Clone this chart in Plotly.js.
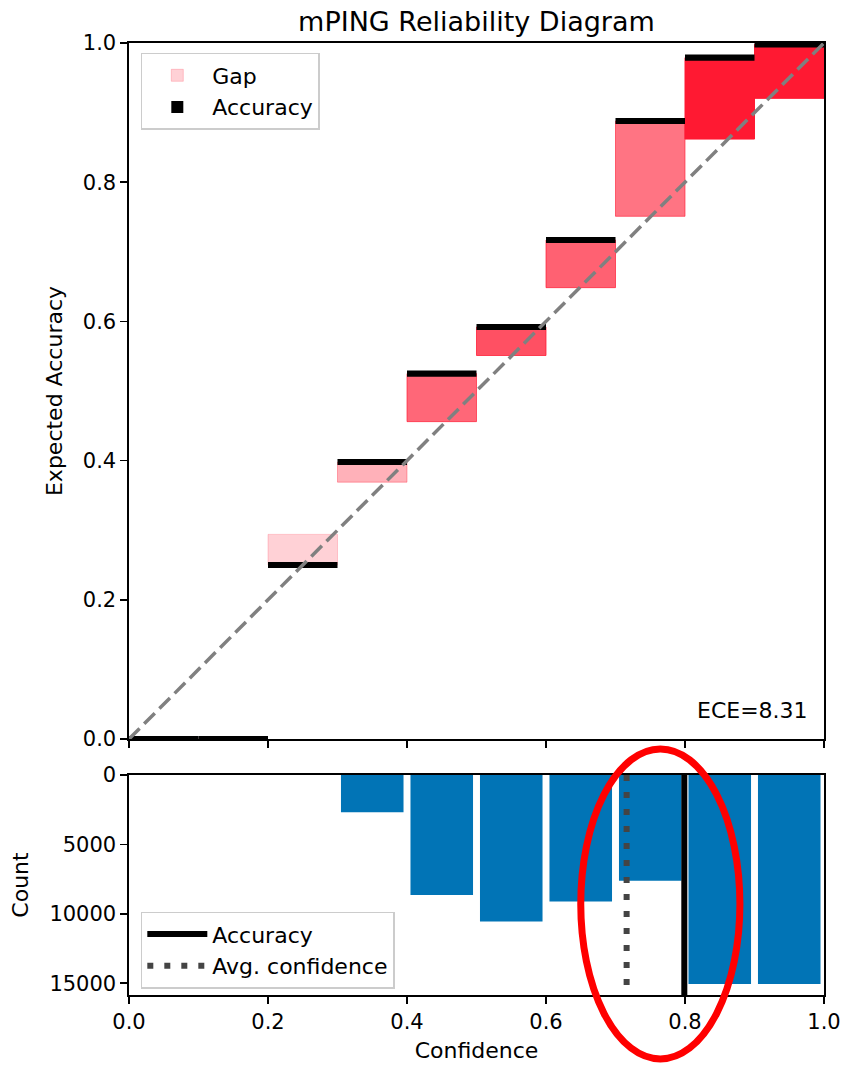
<!DOCTYPE html>
<html>
<head>
<meta charset="utf-8">
<script src="https://cdn.plot.ly/plotly-3.0.1.min.js"></script>
<style>html,body{margin:0;padding:0;background:#fff;}#chart{width:844px;height:1065px;}</style>
</head>
<body>
<div id="chart"></div>
<script>
// ---- data ----
const binLower    = [0.0, 0.1, 0.2, 0.3, 0.4, 0.5, 0.6, 0.7, 0.8, 0.9];
const binUpper    = [0.1, 0.2, 0.3, 0.4, 0.5, 0.6, 0.7, 0.8, 0.9, 1.0];
const accuracies  = [0.0, 0.0, 0.250, 0.398, 0.525, 0.592, 0.717, 0.888, 0.979, 0.998];
const confidences = [0.0, 0.0, 0.294, 0.369, 0.456, 0.551, 0.6485, 0.751, 0.862, 0.9205];
const counts      = [0, 0, 6, 2680, 8640, 10560, 9120, 7610, 15050, 15050];
const avgAccuracy = 0.799;
const avgConfidence = 0.716;
const eceValue = 8.31;
const countTicks = [0, 5000, 10000, 15000];
const probTicks = [0, 0.2, 0.4, 0.6, 0.8, 1.0];

// ---- derived ----
const centers = binLower.map((lo, i) => (lo + binUpper[i]) / 2);
const widths = binLower.map((lo, i) => binUpper[i] - lo);
const maxCount = Math.max(...counts);
const alphas = counts.map(c => 0.2 + 0.8 * c / maxCount);
const gapColors = alphas.map(a => `rgba(255,25,50,${a.toFixed(3)})`);
const gapHeights = accuracies.map((a, i) => Math.abs(a - confidences[i]));
const gapBases = accuracies.map((a, i) => Math.min(a, confidences[i]));
const accThick = 0.0088; // visual thickness of accuracy marker (style)
const countMax = maxCount * 1.053;

const FONT = 'DejaVu Sans, sans-serif';
const TXT = 22;

const traces = [
  {
    type: 'bar', name: 'Gap', x: centers, y: gapHeights, base: gapBases, width: widths,
    marker: {color: gapColors, line: {color: gapColors, width: 1}},
    xaxis: 'x', yaxis: 'y', legend: 'legend', hoverinfo: 'skip'
  },
  {
    type: 'bar', name: 'Accuracy', x: centers,
    y: accuracies.map(() => accThick), base: accuracies.map(a => a - accThick / 2), width: widths,
    marker: {color: '#000000', line: {width: 0}},
    xaxis: 'x', yaxis: 'y', legend: 'legend', hoverinfo: 'skip'
  },
  {
    type: 'scatter', mode: 'lines', x: [0, 1], y: [0, 1], showlegend: false,
    line: {color: 'gray', width: 3.5, dash: '15px,6.5px'},
    xaxis: 'x', yaxis: 'y', hoverinfo: 'skip'
  },
  {
    type: 'bar', x: centers, y: counts, width: widths.map(w => w * 0.9),
    marker: {color: '#0174b6', line: {width: 0}}, showlegend: false,
    xaxis: 'x2', yaxis: 'y2', hoverinfo: 'skip'
  },
  {
    type: 'scatter', mode: 'lines', name: 'Accuracy',
    x: [avgAccuracy, avgAccuracy], y: [0, countMax],
    line: {color: '#000000', width: 6},
    xaxis: 'x2', yaxis: 'y2', legend: 'legend2', hoverinfo: 'skip'
  },
  {
    type: 'scatter', mode: 'lines', name: 'Avg. confidence',
    x: [avgConfidence, avgConfidence], y: [0, countMax],
    line: {color: '#444444', width: 6, dash: '6px,11px'},
    xaxis: 'x2', yaxis: 'y2', legend: 'legend2', hoverinfo: 'skip'
  }
];

const axisCommon = {
  showline: true, linecolor: '#000', linewidth: 1.6, mirror: true,
  ticks: 'outside', ticklen: 7, tickwidth: 1.6, tickcolor: '#000',
  showgrid: false, zeroline: false,
  tickfont: {family: FONT, size: 21, color: '#000'}
};

const layout = {
  width: 844, height: 1065,
  paper_bgcolor: '#fff', plot_bgcolor: '#fff',
  margin: {l: 129, r: 20, t: 43, b: 70},
  barmode: 'overlay',
  font: {family: FONT, size: TXT, color: '#000'},
  title: {text: 'mPING Reliability Diagram', font: {family: FONT, size: 27, color: '#000'},
          x: 0.5645, xanchor: 'center', y: 0.980, yanchor: 'middle'},
  xaxis: Object.assign({}, axisCommon, {
    domain: [0, 1], anchor: 'y', range: [0, 1], tickvals: probTicks, showticklabels: false
  }),
  yaxis: Object.assign({}, axisCommon, {
    domain: [0.2689, 1], anchor: 'x', range: [0, 1], tickvals: probTicks, tickformat: '.1f',
    title: {text: 'Expected Accuracy', font: {family: FONT, size: TXT, color: '#000'}, standoff: 14}
  }),
  xaxis2: Object.assign({}, axisCommon, {
    domain: [0, 1], anchor: 'y2', range: [0, 1], tickvals: probTicks, tickformat: '.1f',
    title: {text: 'Confidence', font: {family: FONT, size: TXT, color: '#000'}, standoff: 10}
  }),
  yaxis2: Object.assign({}, axisCommon, {
    domain: [0, 0.2311], anchor: 'x2', range: [countMax, 0], tickvals: countTicks, tickformat: 'd',
    title: {text: 'Count', font: {family: FONT, size: TXT, color: '#000'}, standoff: 14}
  }),
  legend: {
    x: 0.017, y: 0.9895, xanchor: 'left', yanchor: 'top',
    bgcolor: 'rgba(255,255,255,0.8)', bordercolor: '#cccccc', borderwidth: 1.5,
    font: {family: FONT, size: TXT, color: '#000'}, itemwidth: 60, traceorder: 'normal'
  },
  legend2: {
    x: 0.017, y: 0.0874, xanchor: 'left', yanchor: 'top',
    bgcolor: 'rgba(255,255,255,0.8)', bordercolor: '#cccccc', borderwidth: 1.5,
    font: {family: FONT, size: TXT, color: '#000'}, itemwidth: 60, traceorder: 'normal'
  },
  annotations: [{
    text: 'ECE=' + eceValue.toFixed(2), xref: 'x domain', yref: 'y domain',
    x: 0.98, y: 0.02, xanchor: 'right', yanchor: 'bottom', showarrow: false,
    font: {family: FONT, size: TXT, color: '#000'}
  }],
  shapes: [{
    type: 'circle', xref: 'paper', yref: 'paper',
    x0: 0.650, x1: 0.879, y0: 0.2584, y1: -0.0672,
    line: {color: '#ff0000', width: 7}, fillcolor: 'rgba(0,0,0,0)', layer: 'above'
  }]
};

Plotly.newPlot('chart', traces, layout, {displayModeBar: false, staticPlot: true});
</script>
</body>
</html>
